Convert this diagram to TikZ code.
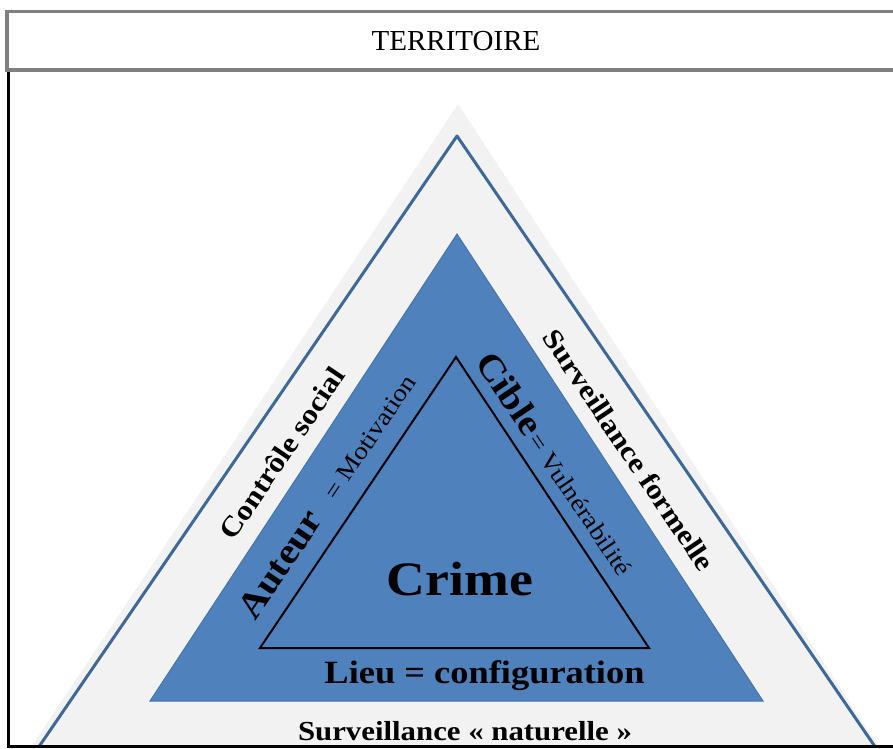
\documentclass[tikz,border=0pt]{standalone}
\usepackage{fontspec}
\setmainfont{Liberation Serif}[FakeStretch=1.12]
\newfontfamily\plainfont{Liberation Serif}
\definecolor{shadowgray}{HTML}{F2F2F2}
\definecolor{edgeblue}{HTML}{3E6898}
\definecolor{fillblue}{HTML}{4F81BD}
\definecolor{filledge}{HTML}{4674AC}
\definecolor{hdrgray}{HTML}{808080}
\begin{document}
\begin{tikzpicture}[x=1pt,y=-1pt,
  lbl/.style={inner sep=0pt, text=black},
  sidelbl/.style={lbl, font=\bfseries\fontsize{28}{28}\selectfont},
]
\useasboundingbox (0,0) rectangle (893,748);
% triangles
\begin{scope}
  \clip (9,72) rectangle (893,746);
  \fill[shadowgray] (458,104) -- (16,770) -- (894,770) -- cycle;
  \draw[edgeblue, line width=3pt, line join=round] (457,136) -- (23,770) -- (891,770) -- cycle;
  \filldraw[fill=fillblue, draw=filledge, line width=1pt] (457,234) -- (150,701) -- (763,701) -- cycle;
  \draw[black, line width=2pt, line join=miter] (456,357) -- (260,648) -- (649,648) -- cycle;
\end{scope}
% header
\draw[hdrgray, line width=3.5pt] (905,11.5) -- (7,11.5) -- (7,70) -- (905,70);
\node[lbl, anchor=base] (terr) at (456,50) {\plainfont\fontsize{29}{29}\selectfont TERRITOIRE};
% frame
\draw[black, line width=2.5pt] (8.5,71.5) -- (8.5,746.5) -- (900,746.5);
% labels
\node[lbl, anchor=base] (crime) at (460,595) {\bfseries\fontsize{48}{48}\selectfont Crime};
\node[lbl, anchor=base] (lieu) at (484.5,683) {\bfseries\fontsize{32.5}{32.5}\selectfont Lieu = configuration};
\node[lbl, anchor=base] (natur) at (465,740) {\bfseries\fontsize{27.5}{27.5}\selectfont Surveillance « naturelle »};
\node[sidelbl, rotate=56] (ctrl) at (282,453) {Contrôle social};
\node[sidelbl, rotate=-56] (form) at (629,450) {Surveillance formelle};
\node[lbl, anchor=base west, rotate=56] (aut) at (255,622) {{\bfseries\fontsize{36}{36}\selectfont Auteur}\hspace{22pt}{\fontsize{24.5}{24.5}\selectfont = Motivation}};
\node[lbl, anchor=base west, rotate=-56] (cib) at (474,362) {{\bfseries\fontsize{36}{36}\selectfont Cible} {\fontsize{24.5}{24.5}\selectfont = Vulnérabilité}};
\end{tikzpicture}
\end{document}
